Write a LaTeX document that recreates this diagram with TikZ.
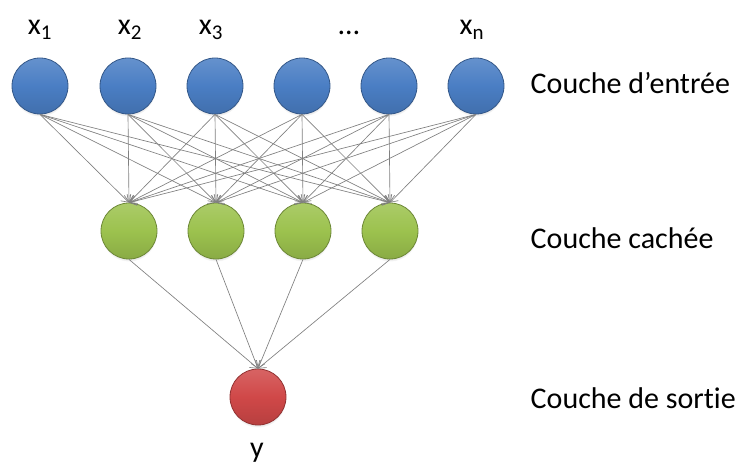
\documentclass[tikz,border=0pt]{standalone}
\usepackage{fontspec}
\setmainfont[Ligatures=NoCommon]{Carlito}
\usetikzlibrary{arrows.meta,shadows}

\definecolor{inblue}{HTML}{4A7EC4}
\definecolor{hidgreen}{HTML}{9CC24E}
\definecolor{outred}{HTML}{D04848}

\tikzset{
  neuron/.style={circle, inner sep=0pt, minimum size=42pt,
    draw=#1!70!black, line width=0.6pt,
    top color=#1!85!white, bottom color=#1!88!black, middle color=#1,
    circular drop shadow={shadow xshift=0pt, shadow yshift=-2pt,
      shadow scale=1.0, opacity=0.3}},
  link/.style={draw=gray, line width=0.5pt,
    -{Straight Barb[length=5pt,width=7pt]}},
  layername/.style={anchor=base west, font=\fontsize{22.5}{27}\selectfont},
  varname/.style={anchor=base, font=\fontsize{22.5}{27}\selectfont}
}

\begin{document}
\begin{tikzpicture}[x=0.75pt,y=-0.75pt]
  \useasboundingbox (0,0) rectangle (742,466);

  % input layer
  \foreach \i/\x in {1/40,2/128,3/215,4/302,5/389,6/476}
    \node[neuron=inblue] (in\i) at (\x,86) {};

  % hidden layer
  \foreach \j/\x in {1/129,2/216,3/303,4/390}
    \node[neuron=hidgreen] (hid\j) at (\x,231) {};

  % output
  \node[neuron=outred] (out) at (258,397) {};

  % connections
  \foreach \i in {1,...,6}
    \foreach \j in {1,...,4}
      \draw[link] (in\i.south) -- (hid\j.north);
  \foreach \j in {1,...,4}
    \draw[link] (hid\j.south) -- (out.north);

  % input names
  \node[varname] (x1) at (40,35) {x\textsubscript{1}};
  \node[varname] (x2) at (130,35) {x\textsubscript{2}};
  \node[varname] (x3) at (211,35) {x\textsubscript{3}};
  \node[varname] (dots) at (349,35) {\dots};
  \node[varname] (xn) at (472,35) {x\textsubscript{n}};
  \node[varname] (y) at (257,457) {y};

  % layer names
  \node[layername] (lin) at (526,94) {Couche d’entrée};
  \node[layername] (lhid) at (526,249) {Couche cachée};
  \node[layername] (lout) at (526,408) {Couche de sortie};
\end{tikzpicture}
\end{document}
